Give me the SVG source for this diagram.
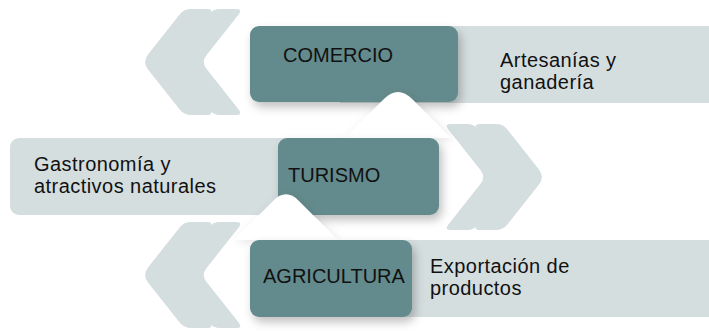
<svg xmlns="http://www.w3.org/2000/svg" xmlns:xlink="http://www.w3.org/1999/xlink" width="709" height="333" viewBox="0 0 709 333">
<style>
.lt{fill:#d5dedf}
.dk{fill:#648a8c}
.pk{fill:#ffffff}
text{font-family:"Liberation Sans",Arial,sans-serif;font-size:20px;fill:#111}
.ds{letter-spacing:0.45px}
</style>
<defs>
<path id="chev" d="M6.21,-7.84 L37.65,-47.51 Q42,-53 49,-53 L65,-53 Q72,-53 67.65,-47.51 L35.59,-7.06 Q30,0 35.59,7.06 L67.65,47.51 Q72,53 65,53 L49,53 Q42,53 37.65,47.51 L6.21,7.84 Q0,0 6.21,-7.84 Z"/>
<filter id="sh" x="-20%" y="-30%" width="150%" height="180%">
<feDropShadow dx="3" dy="5" stdDeviation="5" flood-color="#000" flood-opacity="0.25"/>
</filter>
<filter id="sh2" x="-30%" y="-30%" width="160%" height="170%">
<feDropShadow dx="2" dy="2" stdDeviation="4" flood-color="#000" flood-opacity="0.1"/>
</filter>
</defs>
<g id="chevrons" class="lt">
<use href="#chev" x="142" y="62"/>
<use href="#chev" x="171" y="62"/>
<use href="#chev" transform="translate(545,177) scale(-1,1)"/>
<use href="#chev" transform="translate(516,177) scale(-1,1)"/>
<use href="#chev" x="142" y="275"/>
<use href="#chev" x="171" y="275"/>
</g>
<g id="comercio">
<rect class="lt" x="340" y="26" width="380" height="77"/>
<rect class="dk" x="250" y="26" width="208" height="76" rx="9" filter="url(#sh)"/>
<text x="283" y="62">COMERCIO</text>
<text class="ds" x="500" y="66.5">Artesanías y</text>
<text class="ds" x="500" y="88.5">ganadería</text>
</g>
<g id="connectors">
<path class="pk" d="M345,138 L383.9,99.1 Q398,85 412.1,99.1 L451,138 Z" filter="url(#sh2)"/>
</g>
<g id="turismo">
<rect class="lt" x="10" y="138" width="300" height="77" rx="9"/>
<rect class="dk" x="278" y="138" width="161" height="77" rx="9" filter="url(#sh)"/>
<text class="ds" x="34" y="170.7">Gastronomía y</text>
<text class="ds" x="34" y="193.3">atractivos naturales</text>
<text x="288" y="182">TURISMO</text>
</g>
<g id="connectors2">
<path class="pk" d="M234,240 L273.3,200.7 Q286,188 298.7,200.7 L338,240 Z" filter="url(#sh2)"/>
</g>
<g id="agricultura">
<rect class="lt" x="380" y="240" width="340" height="77"/>
<rect class="dk" x="250" y="240" width="162" height="77" rx="9" filter="url(#sh)"/>
<text x="263" y="283">AGRICULTURA</text>
<text class="ds" x="430" y="273">Exportación de</text>
<text class="ds" x="430" y="295">productos</text>
</g>
</svg>
